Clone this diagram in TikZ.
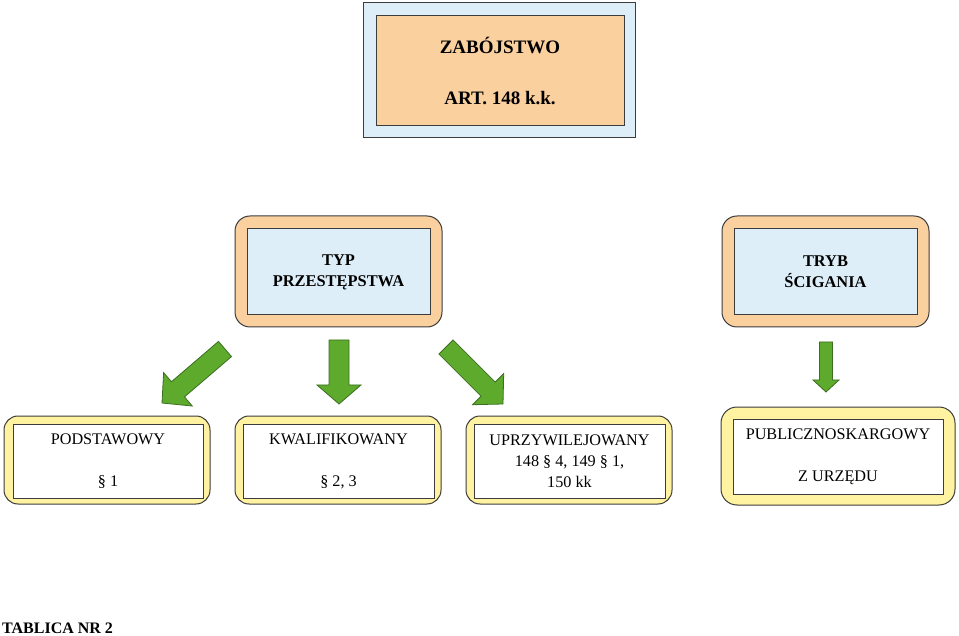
\documentclass[tikz,border=0pt]{standalone}
\usepackage{fontspec}
\setmainfont{Liberation Serif}
\usetikzlibrary{calc}

\definecolor{peach}{HTML}{FBD09F}
\definecolor{paleblue}{HTML}{DDEEF8}
\definecolor{paleyellow}{HTML}{FFF2A0}
\definecolor{arrowgreen}{HTML}{5EAA2C}
\definecolor{arrowline}{HTML}{3B6E22}
\definecolor{boxline}{HTML}{3C3C3C}

\tikzset{
	outerbox/.style={draw=boxline, line width=1pt, inner sep=0pt},
	innerbox/.style={draw=boxline, line width=1pt, inner sep=0pt, align=center},
	fatarrow/.style={fill=arrowgreen, draw=arrowline, line width=0.8pt, line join=miter}
}

% block arrow: start, tip, half shaft, half head, head length
\newcommand{\fatarrow}[5]{%
	\coordinate (fa-base) at ($(#2)!#5!(#1)$);
	\draw[fatarrow]
	($(#1)!#3!90:(#2)$) -- ($(fa-base)!#3!90:(#2)$) -- ($(fa-base)!#4!90:(#2)$)
	-- (#2) -- ($(fa-base)!#4!-90:(#2)$) -- ($(fa-base)!#3!-90:(#2)$)
	-- ($(#1)!#3!-90:(#2)$) -- cycle;
}

\begin{document}
\begin{tikzpicture}[x=1pt, y=-1pt]
	\useasboundingbox (0,0) rectangle (959,636);

	% top box
	\node[outerbox, fill=paleblue, minimum width=272pt, minimum height=135pt] (zabo) at (499,70.5) {};
	\node[innerbox, fill=peach, minimum width=248pt, minimum height=110pt,
		font=\fontsize{19}{23}\selectfont\bfseries] (zab) at (500,71)
		{ZABÓJSTWO\\[28pt]ART. 148 k.k.};

	% middle boxes
	\node[outerbox, fill=peach, rounded corners=15pt, minimum width=207pt, minimum height=111pt] (typo) at (338.5,271.5) {};
	\node[innerbox, fill=paleblue, minimum width=183pt, minimum height=86pt,
		font=\fontsize{16.4}{21}\selectfont\bfseries] (typ) at (338.5,272)
		{TYP\\PRZESTĘPSTWA};

	\node[outerbox, fill=peach, rounded corners=15pt, minimum width=207pt, minimum height=111pt] (trybo) at (825.5,271.5) {};
	\node[innerbox, fill=paleblue, minimum width=183pt, minimum height=86pt,
		font=\fontsize{16.4}{21}\selectfont\bfseries] (tryb) at (825.5,272)
		{TRYB\\ŚCIGANIA};

	% bottom boxes
	\node[outerbox, fill=paleyellow, rounded corners=14pt, minimum width=206pt, minimum height=88pt] (podsto) at (107,460) {};
	\node[innerbox, fill=white, minimum width=190pt, minimum height=74pt,
		font=\fontsize{16.2}{21}\selectfont] (podst) at (108,461)
		{PODSTAWOWY\\[21pt]§ 1};

	\node[outerbox, fill=paleyellow, rounded corners=14pt, minimum width=206pt, minimum height=88pt] (kwalo) at (338,460) {};
	\node[innerbox, fill=white, minimum width=191pt, minimum height=74pt,
		font=\fontsize{16.2}{21}\selectfont] (kwal) at (338.5,461)
		{KWALIFIKOWANY\\[21pt]§ 2, 3};

	\node[outerbox, fill=paleyellow, rounded corners=14pt, minimum width=206pt, minimum height=88pt] (uprzo) at (569,460) {};
	\node[innerbox, fill=white, minimum width=191pt, minimum height=74pt,
		font=\fontsize{16.2}{21}\selectfont] (uprz) at (569.5,461)
		{UPRZYWILEJOWANY\\148 § 4, 149 § 1,\\150 kk};

	\node[outerbox, fill=paleyellow, rounded corners=16pt, minimum width=234pt, minimum height=98pt] (publo) at (838,456) {};
	\node[innerbox, fill=white, minimum width=210pt, minimum height=75pt,
		font=\fontsize{16.2}{21}\selectfont] (publ) at (838,457)
		{PUBLICZNOSKARGOWY\\[21pt]Z URZĘDU};

	% caption
	\node[anchor=base west, inner sep=0pt, font=\fontsize{16}{19}\selectfont\bfseries] (tab) at (2,633) {TABLICA NR 2};

	% arrows
	\coordinate (a1s) at (225,349);
	\coordinate (a1t) at (162,403);
	\coordinate (a2s) at (339,340);
	\coordinate (a2t) at (339,404);
	\coordinate (a3s) at (446,347);
	\coordinate (a3t) at (503,404);
	\coordinate (a4s) at (826,342);
	\coordinate (a4t) at (826,392);
	\fatarrow{a1s}{a1t}{10pt}{22pt}{21pt}
	\fatarrow{a2s}{a2t}{10pt}{22pt}{19pt}
	\fatarrow{a3s}{a3t}{10pt}{22pt}{21pt}
	\fatarrow{a4s}{a4t}{6.5pt}{13pt}{12pt}

\end{tikzpicture}
\end{document}
